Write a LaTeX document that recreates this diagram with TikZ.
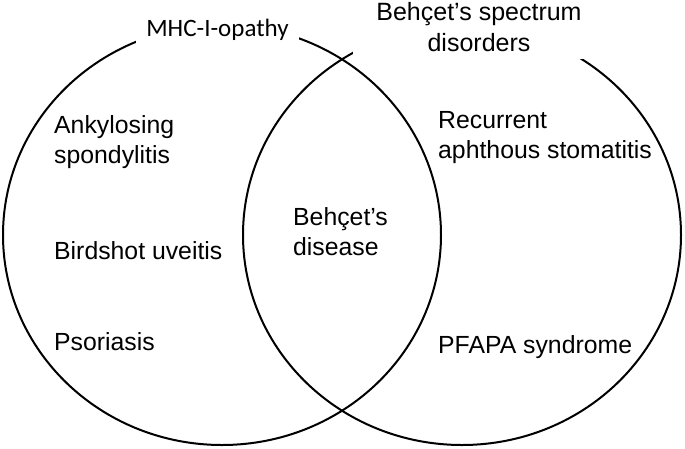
\documentclass[tikz,border=0pt]{standalone}
\usepackage{fontspec}
\setmainfont{Liberation Sans}
\newfontfamily\carlito{Carlito}
\usetikzlibrary{positioning}

\tikzset{
  setline/.style={line width=2pt},
  item/.style={font=\fontsize{24.8}{30}\selectfont, inner sep=0pt, align=left},
  setname/.style={fill=white, inner sep=0pt}
}

\begin{document}
\begin{tikzpicture}[x=1pt,y=-1pt]
    \useasboundingbox (0,0) rectangle (685,448);

    % the two sets
    \draw[setline] (222,235) ellipse (219 and 210);
    \draw[setline] (462,235) ellipse (219 and 210);

    % set names, on white so that they break the outlines
    \node[setname, inner xsep=10pt, inner ysep=4pt, anchor=base, font=\carlito\fontsize{25}{30}\selectfont] (mhc) at (217.5,36) {MHC-I-opathy};
    \node[setname, align=center, inner xsep=23pt, inner ysep=7pt, anchor=south, font=\fontsize{25}{31}\selectfont] (bsd) at (479,59) {Behçet’s spectrum\\disorders};

    % members (base = last line)
    \node[item, anchor=base west] (ank) at (54,163) {Ankylosing\\spondylitis};
    \node[item, anchor=base west] (bird) at (54,259) {Birdshot uveitis};
    \node[item, anchor=base west] (pso) at (54,350) {Psoriasis};
    \node[item, anchor=base west] (bd) at (293,255) {Behçet’s\\disease};
    \node[item, anchor=base west] (ras) at (438,158) {Recurrent\\aphthous stomatitis};
    \node[item, anchor=base west] (pfapa) at (438,353) {PFAPA syndrome};
\end{tikzpicture}
\end{document}
